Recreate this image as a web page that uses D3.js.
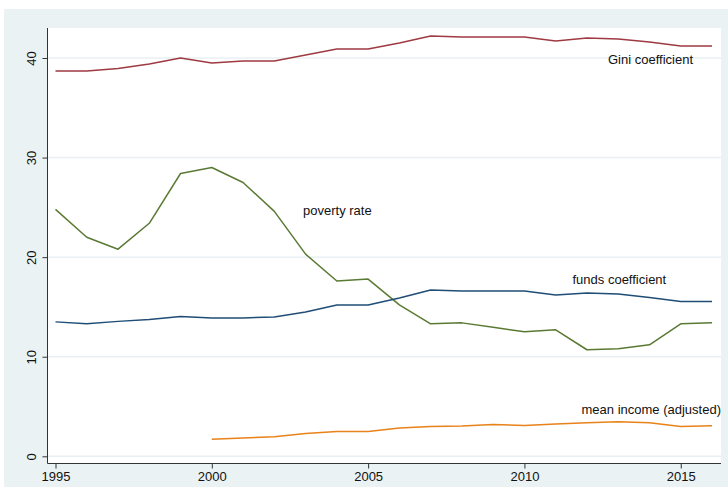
<!DOCTYPE html>
<html>
<head>
<meta charset="utf-8">
<script src="https://cdn.jsdelivr.net/npm/d3@7"></script>
<style>
  html, body { margin: 0; padding: 0; background: #ffffff; }
  svg { display: block; }
  text { font-family: "Liberation Sans", Arial, Helvetica, sans-serif; }
</style>
</head>
<body>
<svg id="chart" width="728" height="487"></svg>
<script>
const years = d3.range(1995, 2017);
const gini = [38.7, 38.7, 38.95, 39.4, 40.0, 39.5, 39.7, 39.7, 40.3, 40.9, 40.9, 41.5, 42.2, 42.1, 42.1, 42.1, 41.7, 42.0, 41.9, 41.6, 41.2, 41.2];
const poverty = [24.8, 22.0, 20.8, 23.4, 28.4, 29.0, 27.5, 24.6, 20.3, 17.6, 17.8, 15.2, 13.3, 13.4, 12.95, 12.5, 12.7, 10.7, 10.8, 11.2, 13.3, 13.4];
const funds = [13.5, 13.3, 13.55, 13.75, 14.05, 13.9, 13.9, 14.0, 14.5, 15.2, 15.2, 15.9, 16.7, 16.6, 16.6, 16.6, 16.2, 16.4, 16.3, 15.95, 15.55, 15.55];
const incomeYears = d3.range(2000, 2017);
const income = [1.7, 1.84, 1.97, 2.3, 2.5, 2.5, 2.85, 3.0, 3.05, 3.2, 3.1, 3.25, 3.38, 3.48, 3.38, 3.0, 3.08];
const yTicks = [0, 10, 20, 30, 40];
const xTicks = [1995, 2000, 2005, 2010, 2015];
const seriesNames = ["Gini coefficient", "poverty rate", "funds coefficient", "mean income (adjusted)"];

const svg = d3.select("#chart");
// outer background
svg.append("rect").attr("x", 4).attr("y", 9).attr("width", 724).attr("height", 478).attr("fill", "#eaf2f3");
// plot region
const plotL = 47.5, plotR = 721, plotT = 28, plotB = 463.5;
svg.append("rect").attr("x", plotL).attr("y", plotT).attr("width", plotR - plotL).attr("height", plotB - plotT).attr("fill", "#ffffff");

const x = d3.scaleLinear().domain([1995, 2016]).range([55.5, 712]);
const y = d3.scaleLinear().domain([0, 40]).range([456.3, 58]);

// gridlines
svg.append("g").selectAll("line").data(yTicks).join("line")
  .attr("x1", plotL).attr("x2", plotR)
  .attr("y1", d => y(d)).attr("y2", d => y(d))
  .attr("stroke", "#e9f0f3").attr("stroke-width", 1.5);

// y axis
const yAxis = svg.append("g").attr("transform", `translate(${plotL},0)`)
  .call(d3.axisLeft(y).tickValues(yTicks).tickSize(5).tickPadding(0).tickFormat(d3.format("d")));
yAxis.select(".domain").attr("d", `M0,${plotT}V${plotB}`).attr("stroke", "#333").attr("stroke-width", 1);
yAxis.selectAll(".tick line").attr("stroke", "#333");
yAxis.selectAll(".tick text")
  .attr("x", 0).attr("y", 0).attr("dy", null)
  .attr("text-anchor", "middle")
  .attr("transform", "translate(-10,0) rotate(-90)")
  .attr("dy", "-0.15em")
  .attr("font-size", 13).attr("fill", "#111")
  .style("font-family", "'Liberation Sans', Arial, sans-serif");

// x axis
const xAxis = svg.append("g").attr("transform", `translate(0,${plotB})`)
  .call(d3.axisBottom(x).tickValues(xTicks).tickSize(5).tickPadding(3).tickFormat(d3.format("d")));
xAxis.select(".domain").attr("d", `M${plotL},0H${plotR}`).attr("stroke", "#333").attr("stroke-width", 1);
xAxis.selectAll(".tick line").attr("stroke", "#333");
xAxis.selectAll(".tick text").attr("font-size", 13).attr("fill", "#111")
  .style("font-family", "'Liberation Sans', Arial, sans-serif");

const line = d3.line().x(d => x(d[0])).y(d => y(d[1]));
const series = [
  { name: seriesNames[0], xs: years, vals: gini, color: "#9e3a42" },
  { name: seriesNames[1], xs: years, vals: poverty, color: "#5a7a33" },
  { name: seriesNames[2], xs: years, vals: funds, color: "#1f4d76" },
  { name: seriesNames[3], xs: incomeYears, vals: income, color: "#e8821a" }
];
svg.append("g").selectAll("path").data(series).join("path")
  .attr("d", s => line(s.xs.map((yr, i) => [yr, s.vals[i]])))
  .attr("fill", "none").attr("stroke", s => s.color).attr("stroke-width", 1.5)
  .attr("stroke-linejoin", "round");

// labels
const labelPos = [
  { t: seriesNames[0], lx: 608, ly: 59 },
  { t: seriesNames[1], lx: 303, ly: 210 },
  { t: seriesNames[2], lx: 572.5, ly: 279 },
  { t: seriesNames[3], lx: 581.5, ly: 409.5 }
];
svg.append("g").selectAll("text").data(labelPos).join("text")
  .attr("x", d => d.lx).attr("y", d => d.ly + 4.5)
  .attr("font-size", 13).attr("fill", "#111")
  .text(d => d.t);
</script>
</body>
</html>
